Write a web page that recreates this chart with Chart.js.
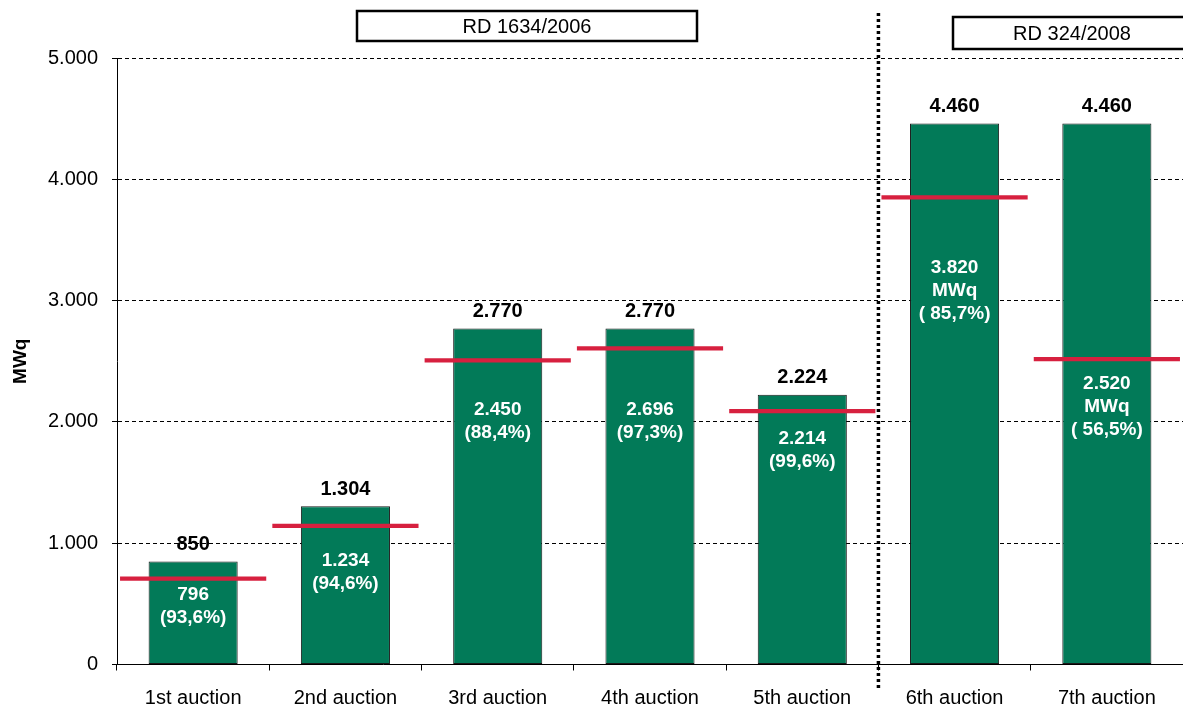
<!DOCTYPE html>
<html>
<head>
<meta charset="utf-8">
<script src="https://cdn.jsdelivr.net/npm/chart.js@4/dist/chart.umd.min.js"></script>
<style>
  html, body { margin: 0; padding: 0; background: #fff; }
  #wrap { width: 1183px; height: 706px; }
</style>
</head>
<body>
<div id="wrap"><canvas id="auctionChart" width="1183" height="706"></canvas></div>
<script>
// auctions
const auctions = ['1st auction', '2nd auction', '3rd auction', '4th auction', '5th auction', '6th auction', '7th auction']
// offered capacity (bar height)
const offered = [850, 1304, 2770, 2770, 2224, 4460, 4460]
// red marker per auction
const redLine = [708, 1143, 2507, 2606, 2089, 3851, 2518]
// awarded capacity and share, shown inside the bars
const awarded = ['796', '1.234', '2.450', '2.696', '2.214', '3.820', '2.520']
const share = ['(93,6%)', '(94,6%)', '(88,4%)', '(97,3%)', '(99,6%)', '( 85,7%)', '( 56,5%)']
const showUnit = [false, false, false, false, false, true, true]
const yTicks = [0, 1000, 2000, 3000, 4000, 5000]

// where the inner text block is centred, in axis units
const innerAt = [480, 763, 2005, 2005, 1770, 3077, 2125]

const fmt = (v) => String(v).replace(/\B(?=(\d{3})+(?!\d))/g, '.')
const FONT = '"Liberation Sans", Arial, sans-serif'

const labelsPlugin = {
  id: 'labelsPlugin',
  afterDatasetsDraw(chart) {
    const { ctx, scales: { x, y } } = chart
    ctx.save()
    ctx.textAlign = 'center'
    offered.forEach((v, i) => {
      const cx = x.getPixelForValue(i)
      ctx.fillStyle = '#000'
      ctx.font = 'bold 20px ' + FONT
      ctx.textBaseline = 'bottom'
      ctx.fillText(fmt(v), cx, y.getPixelForValue(v) - 7)

      const lines = [awarded[i]]
      if (showUnit[i]) lines.push('MWq')
      lines.push(share[i])
      const lh = 23
      const mid = y.getPixelForValue(innerAt[i])
      const start = mid - ((lines.length - 1) * lh) / 2
      ctx.fillStyle = '#fff'
      ctx.font = 'bold 19px ' + FONT
      ctx.textBaseline = 'middle'
      lines.forEach((t, k) => ctx.fillText(t, cx, start + k * lh))
    })
    ctx.restore()
  },
  afterDraw(chart) {
    const { ctx, scales: { x } } = chart
    ctx.save()
    // dotted separator between 5th and 6th auction
    const sx = (x.getPixelForValue(4) + x.getPixelForValue(5)) / 2
    ctx.strokeStyle = '#000'
    ctx.lineWidth = 3.5
    ctx.setLineDash([3, 3])
    ctx.beginPath()
    ctx.moveTo(sx, 13)
    ctx.lineTo(sx, 689)
    ctx.stroke()
    ctx.setLineDash([])

    // regulation boxes
    const boxes = [
      { text: 'RD 1634/2006', x1: 357, y1: 11, x2: 697, y2: 41 },
      { text: 'RD 324/2008', x1: 953, y1: 17, x2: 1192, y2: 49 },
    ]
    ctx.lineWidth = 2.5
    ctx.font = '20px ' + FONT
    ctx.textAlign = 'center'
    ctx.textBaseline = 'middle'
    boxes.forEach((b) => {
      ctx.fillStyle = '#fff'
      ctx.fillRect(b.x1, b.y1, b.x2 - b.x1, b.y2 - b.y1)
      ctx.strokeRect(b.x1, b.y1, b.x2 - b.x1, b.y2 - b.y1)
      ctx.fillStyle = '#000'
      ctx.fillText(b.text, b.x1 + (Math.min(b.x2, 1183) - b.x1) / 2 + (b.x2 > 1183 ? 4 : 0), (b.y1 + b.y2) / 2 + 1)
    })
    ctx.restore()
  },
}

new Chart('auctionChart', {
  type: 'bar',
  data: {
    labels: auctions,
    datasets: [
      {
        label: 'marker',
        data: redLine.map((v) => [v - 17, v + 17]),
        backgroundColor: '#d7203f',
        borderWidth: 0,
        barPercentage: 0.96,
        categoryPercentage: 1,
        order: 0,
      },
      {
        label: 'MWq',
        data: offered,
        backgroundColor: '#027a58',
        borderColor: '#1a1a1a',
        borderWidth: 1,
        borderSkipped: false,
        barPercentage: 0.585,
        categoryPercentage: 1,
        order: 1,
      },
    ],
  },
  options: {
    responsive: false,
    animation: false,
    events: [],
    layout: { padding: { top: 58, right: 0, bottom: 0, left: 0 } },
    plugins: {
      legend: { display: false },
      tooltip: { enabled: false },
    },
    datasets: { bar: { grouped: false } },
    scales: {
      x: {
        offset: true,
        afterFit: (s) => { s.height = 41.5 },
        border: { display: true, color: '#000', width: 1 },
        grid: {
          offset: true,
          drawOnChartArea: false,
          drawTicks: true,
          tickLength: 6,
          tickColor: '#000',
        },
        ticks: {
          color: '#000',
          padding: 16,
          font: { family: FONT, size: 20 },
          maxRotation: 0,
        },
      },
      y: {
        min: 0,
        max: 5000,
        afterFit: (s) => { s.width = 117 },
        afterBuildTicks: (s) => { s.ticks = yTicks.map((v) => ({ value: v })) },
        border: { display: true, color: '#000', width: 1, dash: [4, 3] },
        grid: {
          color: '#000',
          lineWidth: 1,
          drawTicks: true,
          tickLength: 5,
          tickColor: '#000',
          tickBorderDash: [],
        },
        ticks: {
          color: '#000',
          padding: 14,
          font: { family: FONT, size: 20 },
          callback: (v) => fmt(v),
        },
        title: {
          display: true,
          text: 'MWq',
          color: '#000',
          font: { family: FONT, size: 19, weight: 'bold' },
          padding: { top: 9, bottom: 0 },
        },
      },
    },
  },
  plugins: [labelsPlugin],
})
</script>
</body>
</html>
